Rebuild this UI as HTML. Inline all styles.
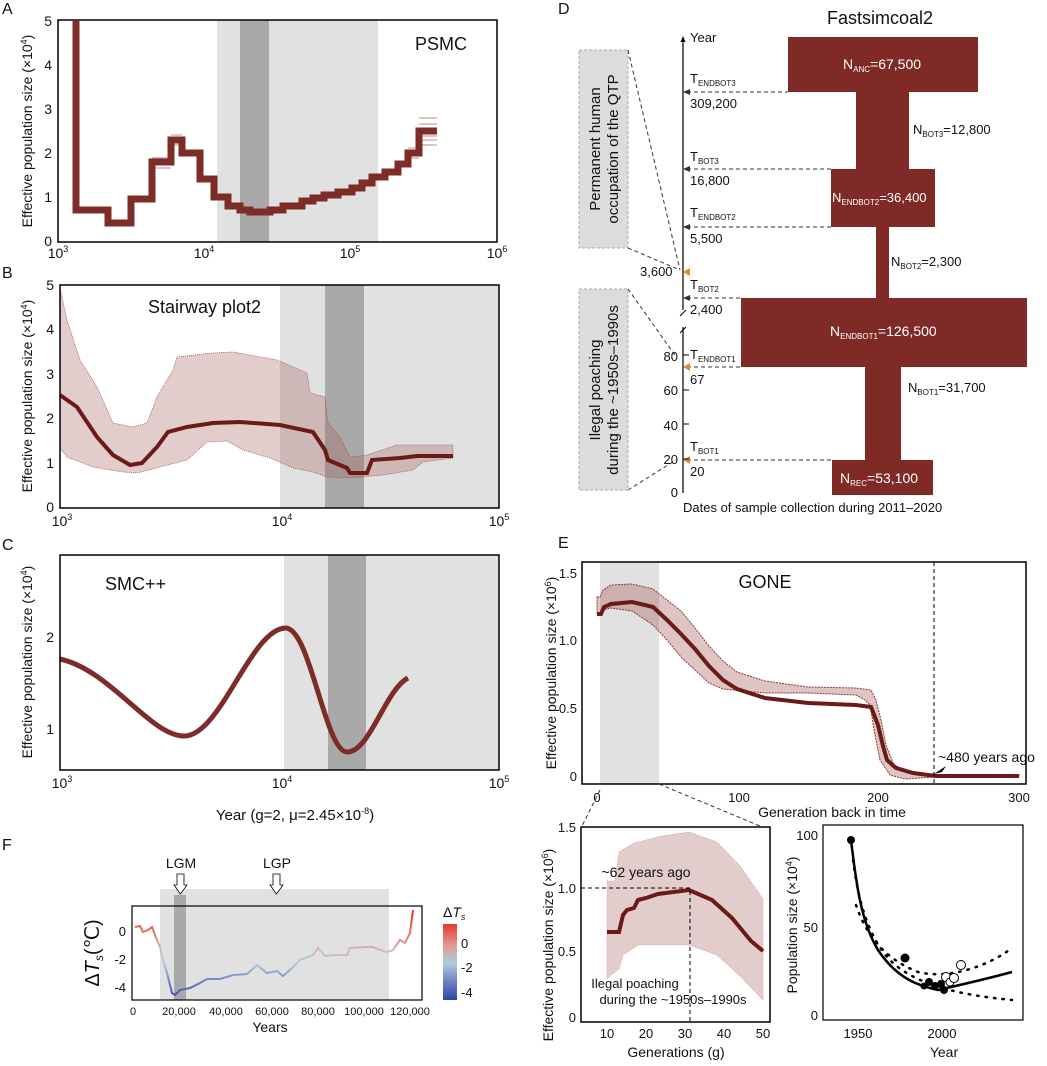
<!DOCTYPE html>
<html><head><meta charset="utf-8"><style>
body{margin:0;background:#fff}
svg{display:block;font-family:"Liberation Sans",sans-serif}
</style></head><body>
<svg width="1047" height="1066" viewBox="0 0 1047 1066" xmlns="http://www.w3.org/2000/svg">
<defs>
<linearGradient id="tg" gradientUnits="userSpaceOnUse" x1="0" y1="914" x2="0" y2="1000">
<stop offset="0" stop-color="#e8392b"/><stop offset="0.25" stop-color="#e08070"/><stop offset="0.42" stop-color="#d8b8b8"/><stop offset="0.58" stop-color="#a9cde0"/><stop offset="0.78" stop-color="#7780c0"/><stop offset="1" stop-color="#2a48a8"/>
</linearGradient>
<linearGradient id="cb" x1="0" y1="0" x2="0" y2="1">
<stop offset="0" stop-color="#e8392b"/><stop offset="0.3" stop-color="#e0a098"/><stop offset="0.52" stop-color="#a9cde0"/><stop offset="0.75" stop-color="#7780c0"/><stop offset="1" stop-color="#2a48a8"/>
</linearGradient>
</defs>
<g font-size="14" fill="#111">
<!-- A -->
<text x="2" y="14" font-size="16">A</text>
<rect x="217" y="20" width="161" height="222" fill="#e1e1e1"/>
<rect x="240" y="20" width="29" height="222" fill="#a9a9a9"/>
<g fill="none" stroke="#a25550" stroke-width="1" opacity="0.7">
<path d="M419,140H437M419,128H437M419,124H437M419,136H437M419,118H437M419,145H437M408,158H419M408,148H419M171,135H182M171,145H182M152,158H171M152,168H171"/>
</g>
<g fill="none" stroke="#7e2c27" stroke-width="7" stroke-linejoin="miter">
<path d="M76,21V210H108V223H131V199H152V162H171V140H182V153H200V179H214V197H228V206H240V210H250V212H270V210H283V206H302V201H313V198H324V195H338V192H352V188H362V183H372V177H385V172H398V164H408V153H419V131H437"/>
</g>
<rect x="58" y="20" width="439" height="222" fill="none" stroke="#000" stroke-width="1.5"/>
<text x="415" y="50" font-size="18">PSMC</text>
<g text-anchor="end"><text x="52" y="26">5</text><text x="52" y="70">4</text><text x="52" y="114">3</text><text x="52" y="158">2</text><text x="52" y="202">1</text><text x="52" y="246">0</text></g>
<g text-anchor="middle"><text x="58" y="258">10<tspan font-size="9" dy="-6">3</tspan></text><text x="204" y="258">10<tspan font-size="9" dy="-6">4</tspan></text><text x="350" y="258">10<tspan font-size="9" dy="-6">5</tspan></text><text x="497" y="258">10<tspan font-size="9" dy="-6">6</tspan></text></g>
<text transform="translate(32,131) rotate(-90)" text-anchor="middle" font-size="14">Effective population size (×10<tspan font-size="9" dy="-5">4</tspan><tspan dy="5">)</tspan></text>

<!-- B -->
<text x="2" y="278" font-size="16">B</text>
<rect x="280" y="285" width="219" height="223" fill="#e1e1e1"/>
<rect x="325" y="285" width="39" height="223" fill="#a9a9a9"/>
<path d="M60,288L67,320L80,360L97,387L113,423L133,427L147,423L157,397L173,370L177,357L213,353L233,352L277,360L307,373L310,393L325,397L328,423L340,437L350,457L367,455L397,445L453,445L453,458L423,462L413,470L383,475L360,477L347,478L327,477L313,472L293,468L270,458L243,450L227,441L207,442L187,460L160,467L137,473L123,472L93,467L67,457L60,448Z" fill="#a05a55" fill-opacity="0.3" stroke="#a05a55" stroke-width="0.8" stroke-dasharray="1,1"/>
<path d="M60,395L77,407L97,437L113,455L130,465L142,463L157,447L168,432L187,427L213,423L240,422L280,425L313,432L325,450L328,460L347,468L350,473L367,473L372,460L400,458L417,456L453,456" fill="none" stroke="#6b1a17" stroke-width="4"/>
<rect x="60" y="285" width="439" height="223" fill="none" stroke="#000" stroke-width="1.5"/>
<text x="148" y="313" font-size="18">Stairway plot2</text>
<g text-anchor="end"><text x="54" y="290">5</text><text x="54" y="334">4</text><text x="54" y="379">3</text><text x="54" y="423">2</text><text x="54" y="468">1</text><text x="54" y="512">0</text></g>
<g text-anchor="middle"><text x="62" y="526">10<tspan font-size="9" dy="-6">3</tspan></text><text x="282" y="526">10<tspan font-size="9" dy="-6">4</tspan></text><text x="499" y="526">10<tspan font-size="9" dy="-6">5</tspan></text></g>
<text transform="translate(32,396) rotate(-90)" text-anchor="middle">Effective population size (×10<tspan font-size="9" dy="-5">4</tspan><tspan dy="5">)</tspan></text>

<!-- C -->
<text x="2" y="550" font-size="16">C</text>
<rect x="284" y="555" width="215" height="215" fill="#e1e1e1"/>
<rect x="328" y="555" width="38" height="215" fill="#a9a9a9"/>
<path d="M60,659C110,670 150,735 183,736C220,738 250,630 285,628C310,626 325,752 347,752C370,752 385,690 408,678" fill="none" stroke="#7e2c27" stroke-width="5"/>
<rect x="60" y="555" width="439" height="215" fill="none" stroke="#000" stroke-width="1.5"/>
<text x="105" y="590" font-size="18">SMC++</text>
<g text-anchor="end"><text x="54" y="642">2</text><text x="54" y="734">1</text></g>
<g text-anchor="middle"><text x="62" y="788">10<tspan font-size="9" dy="-6">3</tspan></text><text x="282" y="788">10<tspan font-size="9" dy="-6">4</tspan></text><text x="499" y="788">10<tspan font-size="9" dy="-6">5</tspan></text></g>
<text transform="translate(32,662) rotate(-90)" text-anchor="middle">Effective population size (×10<tspan font-size="9" dy="-5">4</tspan><tspan dy="5">)</tspan></text>
<text x="295" y="820" text-anchor="middle" font-size="15">Year (g=2, μ=2.45×10<tspan font-size="9" dy="-6">-8</tspan><tspan dy="6">)</tspan></text>

<!-- F -->
<text x="2" y="850" font-size="16">F</text>
<rect x="160" y="889" width="229" height="111" fill="#e1e1e1"/>
<rect x="174" y="895" width="12" height="105" fill="#a9a9a9"/>
<rect x="132" y="906" width="290" height="94" fill="none" stroke="#000" stroke-width="1.2"/>
<polyline points="135,927 140,926 143,932 148,930 152,927 155,935 160,947 163,960 167,973 172,993 175,995 180,990 190,988 200,983 207,979 220,979 233,975 247,974 257,965 267,973 277,971 283,976 293,967 300,960 313,955 318,948 325,956 333,955 347,955 350,948 367,947 373,947 380,950 387,952 393,950 400,940 405,943 410,933 413,910" fill="none" stroke="url(#tg)" stroke-width="2"/>
<text x="181" y="868" text-anchor="middle" font-size="14">LGM</text><text x="277" y="868" text-anchor="middle" font-size="14">LGP</text>
<path d="M177,874h7v11h3l-6.5,9l-6.5,-9h3z M273,874h7v11h3l-6.5,9l-6.5,-9h3z" fill="#fff" stroke="#000" stroke-width="0.8"/>
<g text-anchor="end" font-size="13"><text x="126" y="936">0</text><text x="126" y="964">-2</text><text x="126" y="992">-4</text></g>
<g text-anchor="middle" font-size="11"><text x="133" y="1015">0</text><text x="179" y="1015">20,000</text><text x="226" y="1015">40,000</text><text x="272" y="1015">60,000</text><text x="318" y="1015">80,000</text><text x="364" y="1015">100,000</text><text x="410" y="1015">120,000</text></g>
<text x="270" y="1032" text-anchor="middle" font-size="14">Years</text>
<text transform="translate(99,953) rotate(-90)" text-anchor="middle" font-size="20">Δ<tspan font-style="italic">T</tspan><tspan font-size="12" dy="4" font-style="italic">s</tspan><tspan dy="-4">(℃)</tspan></text>
<text x="443" y="917" font-size="14">Δ<tspan font-style="italic">T</tspan><tspan font-size="9" dy="3" font-style="italic">s</tspan></text>
<rect x="443" y="924" width="14" height="76" fill="url(#cb)"/>
<g font-size="13"><text x="461" y="948">0</text><text x="461" y="972">-2</text><text x="461" y="997">-4</text></g>

<!-- D -->
<text x="558" y="14" font-size="16">D</text>
<text x="880" y="24" text-anchor="middle" font-size="18">Fastsimcoal2</text>
<g fill="#7f2a27">
<rect x="788" y="37" width="190" height="55"/><rect x="856" y="92" width="53" height="77"/><rect x="831" y="169" width="104" height="58"/><rect x="876" y="227" width="13" height="71"/><rect x="741" y="298" width="286" height="69"/><rect x="865" y="367" width="36" height="93"/><rect x="832" y="460" width="101" height="35"/>
</g>
<line x1="683" y1="40" x2="683" y2="310" stroke="#000" stroke-width="1.2"/><line x1="683" y1="327" x2="683" y2="493" stroke="#000" stroke-width="1.2"/>
<path d="M680,316l6,-6M680,333l6,-6" stroke="#000"/>
<path d="M683,36l-2.5,6h5z" fill="#000"/>
<text x="690" y="42" font-size="13">Year</text>
<rect x="579" y="50" width="49" height="198" fill="#dcdcdc" stroke="#aaa" stroke-dasharray="3,2"/>
<rect x="579" y="289" width="49" height="201" fill="#dcdcdc" stroke="#aaa" stroke-dasharray="3,2"/>
<text transform="translate(600,149) rotate(-90)" text-anchor="middle" font-size="15">Permanent human</text>
<text transform="translate(618,149) rotate(-90)" text-anchor="middle" font-size="15">occupation of the QTP</text>
<text transform="translate(600,390) rotate(-90)" text-anchor="middle" font-size="15">Ilegal poaching</text>
<text transform="translate(618,390) rotate(-90)" text-anchor="middle" font-size="15">during the ~1950s–1990s</text>
<g stroke="#333" stroke-dasharray="4,3" fill="none">
<path d="M628,50L680,270M628,248L680,270M628,289L677,358M628,490L676,460"/>
<path d="M687,92H788M687,169H831M687,227H831M687,298H741M687,367H741M687,460H832"/>
</g>
<g fill="#333"><path d="M683,92l7,-3v6zM683,169l7,-3v6zM683,227l7,-3v6zM683,298l7,-3v6z"/></g>
<g fill="#e08a3a"><path d="M683,272l7,-4v8zM683,367l7,-4v8zM683,460l7,-4v8z"/></g>
<g font-size="13">
<text x="690" y="83">T<tspan font-size="8" dy="3">ENDBOT3</tspan></text><text x="690" y="108">309,200</text>
<text x="690" y="161">T<tspan font-size="8" dy="3">BOT3</tspan></text><text x="690" y="185">16,800</text>
<text x="690" y="217">T<tspan font-size="8" dy="3">ENDBOT2</tspan></text><text x="690" y="243">5,500</text>
<text x="640" y="276">3,600</text>
<text x="690" y="289">T<tspan font-size="8" dy="3">BOT2</tspan></text><text x="690" y="314">2,400</text>
<text x="690" y="359">T<tspan font-size="8" dy="3">ENDBOT1</tspan></text><text x="690" y="384">67</text>
<text x="690" y="451">T<tspan font-size="8" dy="3">BOT1</tspan></text><text x="690" y="476">20</text>
<g text-anchor="end"><text x="678" y="361">80</text><text x="678" y="395">60</text><text x="678" y="430">40</text><text x="678" y="464">20</text><text x="678" y="497">0</text></g>
<text x="683" y="512">Dates of sample collection during 2011–2020</text>
<text x="908" y="392">N<tspan font-size="8" dy="3">BOT1</tspan><tspan dy="-3">=31,700</tspan></text>
<text x="891" y="266">N<tspan font-size="8" dy="3">BOT2</tspan><tspan dy="-3">=2,300</tspan></text>
<text x="913" y="134">N<tspan font-size="8" dy="3">BOT3</tspan><tspan dy="-3">=12,800</tspan></text>
</g>
<path d="M683,355h6M683,390h6M683,424h6M683,459h6" stroke="#000"/>
<g font-size="14" fill="#fff">
<text x="843" y="69">N<tspan font-size="8" dy="3">ANC</tspan><tspan dy="-3">=67,500</tspan></text>
<text x="832" y="202" font-size="13">N<tspan font-size="8" dy="3">ENDBOT2</tspan><tspan dy="-3">=36,400</tspan></text>
<text x="830" y="336">N<tspan font-size="8" dy="3">ENDBOT1</tspan><tspan dy="-3">=126,500</tspan></text>
<text x="840" y="483">N<tspan font-size="8" dy="3">REC</tspan><tspan dy="-3">=53,100</tspan></text>
</g>

<!-- E -->
<text x="558" y="548" font-size="16">E</text>
<rect x="600" y="562" width="59" height="222" fill="#e1e1e1"/>
<path d="M597,597L600,597L603,590L611,585L632,584L653,589L667,600L681,611L695,628L709,646L723,661L737,672L765,681L808,687L856,688L871,690L876,700L881,720L886,745L894,765L908,771L936,775L1019,775L1019,777L936,777L905,779L890,775L880,760L875,735L870,705L865,700L856,695L808,693L765,693L723,689L709,683L695,670L681,657L667,640L653,625L632,611L611,608L603,610L600,614L597,614Z" fill="#a05a55" fill-opacity="0.35" stroke="#8a3a35" stroke-dasharray="2,1" stroke-width="1"/>
<path d="M597,614L601,614L604,607L611,604L632,602L653,607L667,620L681,634L695,649L709,666L723,680L737,689L765,698L808,703L856,705L871,707L878,725L883,746L887,760L896,768L913,773L936,776L1019,776" fill="none" stroke="#6b1a17" stroke-width="4"/>
<line x1="934" y1="562" x2="934" y2="784" stroke="#000" stroke-dasharray="4,3"/>
<path d="M934,774l12,-8l-4,6z" fill="#000"/>
<text x="938" y="762" font-size="14">~480 years ago</text>
<rect x="582" y="562" width="444" height="222" fill="none" stroke="#000" stroke-width="1.5"/>
<text x="765" y="588" text-anchor="middle" font-size="18">GONE</text>
<g text-anchor="end" font-size="13"><text x="577" y="578">1.5</text><text x="577" y="645">1.0</text><text x="577" y="713">0.5</text><text x="577" y="781">0</text></g>
<g text-anchor="middle" font-size="13"><text x="597" y="802">0</text><text x="739" y="802">100</text><text x="878" y="802">200</text><text x="1019" y="802">300</text></g>
<text x="832" y="817" text-anchor="middle" font-size="14">Generation back in time</text>
<text transform="translate(556,673) rotate(-90)" text-anchor="middle" font-size="14">Effective population size (×10<tspan font-size="9" dy="-5">6</tspan><tspan dy="5">)</tspan></text>
<path d="M659,784L760,826M600,790L582,826" stroke="#333" stroke-dasharray="4,3" fill="none"/>

<!-- E inset 1 -->
<path d="M607,881L615,881L619,852L634,843L662,836L689,832L717,842L740,866L763,899L763,1000L740,976L717,955L689,945L662,945L638,945L623,955L619,969L611,975L607,979Z" fill="#a05a55" fill-opacity="0.3" stroke="#d08080" stroke-width="0.6" stroke-dasharray="1,1"/>
<path d="M607,932L619,932L623,915L627,910L634,908L638,900L646,898L658,894L689,890L712,900L732,918L751,941L763,951" fill="none" stroke="#6b1a17" stroke-width="4"/>
<path d="M581,888H690V1022" stroke="#000" stroke-dasharray="4,3" fill="none"/>
<rect x="581" y="827" width="189" height="195" fill="none" stroke="#000" stroke-width="1.5"/>
<text x="646" y="877" text-anchor="middle" font-size="14">~62 years ago</text>
<text x="635" y="988" text-anchor="middle" font-size="13">Ilegal poaching</text>
<text x="673" y="1004" text-anchor="middle" font-size="13">during the ~1950s–1990s</text>
<g text-anchor="end" font-size="13"><text x="576" y="832">1.5</text><text x="576" y="893">1.0</text><text x="576" y="956">0.5</text><text x="576" y="1022">0</text></g>
<g text-anchor="middle" font-size="13"><text x="607" y="1038">10</text><text x="646" y="1038">20</text><text x="685" y="1038">30</text><text x="724" y="1038">40</text><text x="763" y="1038">50</text></g>
<text x="676" y="1057" text-anchor="middle" font-size="14">Generations (g)</text>
<text transform="translate(553,945) rotate(-90)" text-anchor="middle" font-size="14">Effective population size (×10<tspan font-size="9" dy="-5">6</tspan><tspan dy="5">)</tspan></text>

<!-- E inset 2 -->
<rect x="823" y="825" width="200" height="195" fill="none" stroke="#000" stroke-width="1.2"/>
<path d="M851,840C856,880 860,920 878,950C898,980 920,986 938,990C960,985 990,978 1012,972" fill="none" stroke="#000" stroke-width="2.5"/>
<path d="M853,860C858,900 868,935 888,958C913,985 960,995 1012,1000" fill="none" stroke="#000" stroke-width="2.5" stroke-dasharray="1.5,7" stroke-linecap="round"/>
<path d="M856,905C868,940 888,960 918,972C950,980 990,965 1012,948" fill="none" stroke="#000" stroke-width="2.5" stroke-dasharray="1.5,7" stroke-linecap="round"/>
<g fill="#000"><circle cx="851" cy="840" r="4"/><circle cx="905" cy="958" r="4.5"/><circle cx="929" cy="982" r="4"/><circle cx="935" cy="986" r="4"/><circle cx="941" cy="984" r="4"/><circle cx="944" cy="990" r="4"/><circle cx="924" cy="986" r="3.5"/></g>
<g fill="#fff" stroke="#000"><circle cx="946" cy="977" r="4.5"/><circle cx="950" cy="982" r="4"/><circle cx="954" cy="978" r="4.5"/><circle cx="961" cy="965" r="4.5"/></g>
<g text-anchor="end" font-size="13"><text x="818" y="840">100</text><text x="818" y="932">50</text><text x="818" y="1020">0</text></g>
<g text-anchor="middle" font-size="13"><text x="858" y="1038">1950</text><text x="942" y="1038">2000</text></g>
<text x="944" y="1057" text-anchor="middle" font-size="14">Year</text>
<text transform="translate(797,925) rotate(-90)" text-anchor="middle" font-size="14">Population size (×10<tspan font-size="9" dy="-5">4</tspan><tspan dy="5">)</tspan></text>
</g>
</svg>
</body></html>
